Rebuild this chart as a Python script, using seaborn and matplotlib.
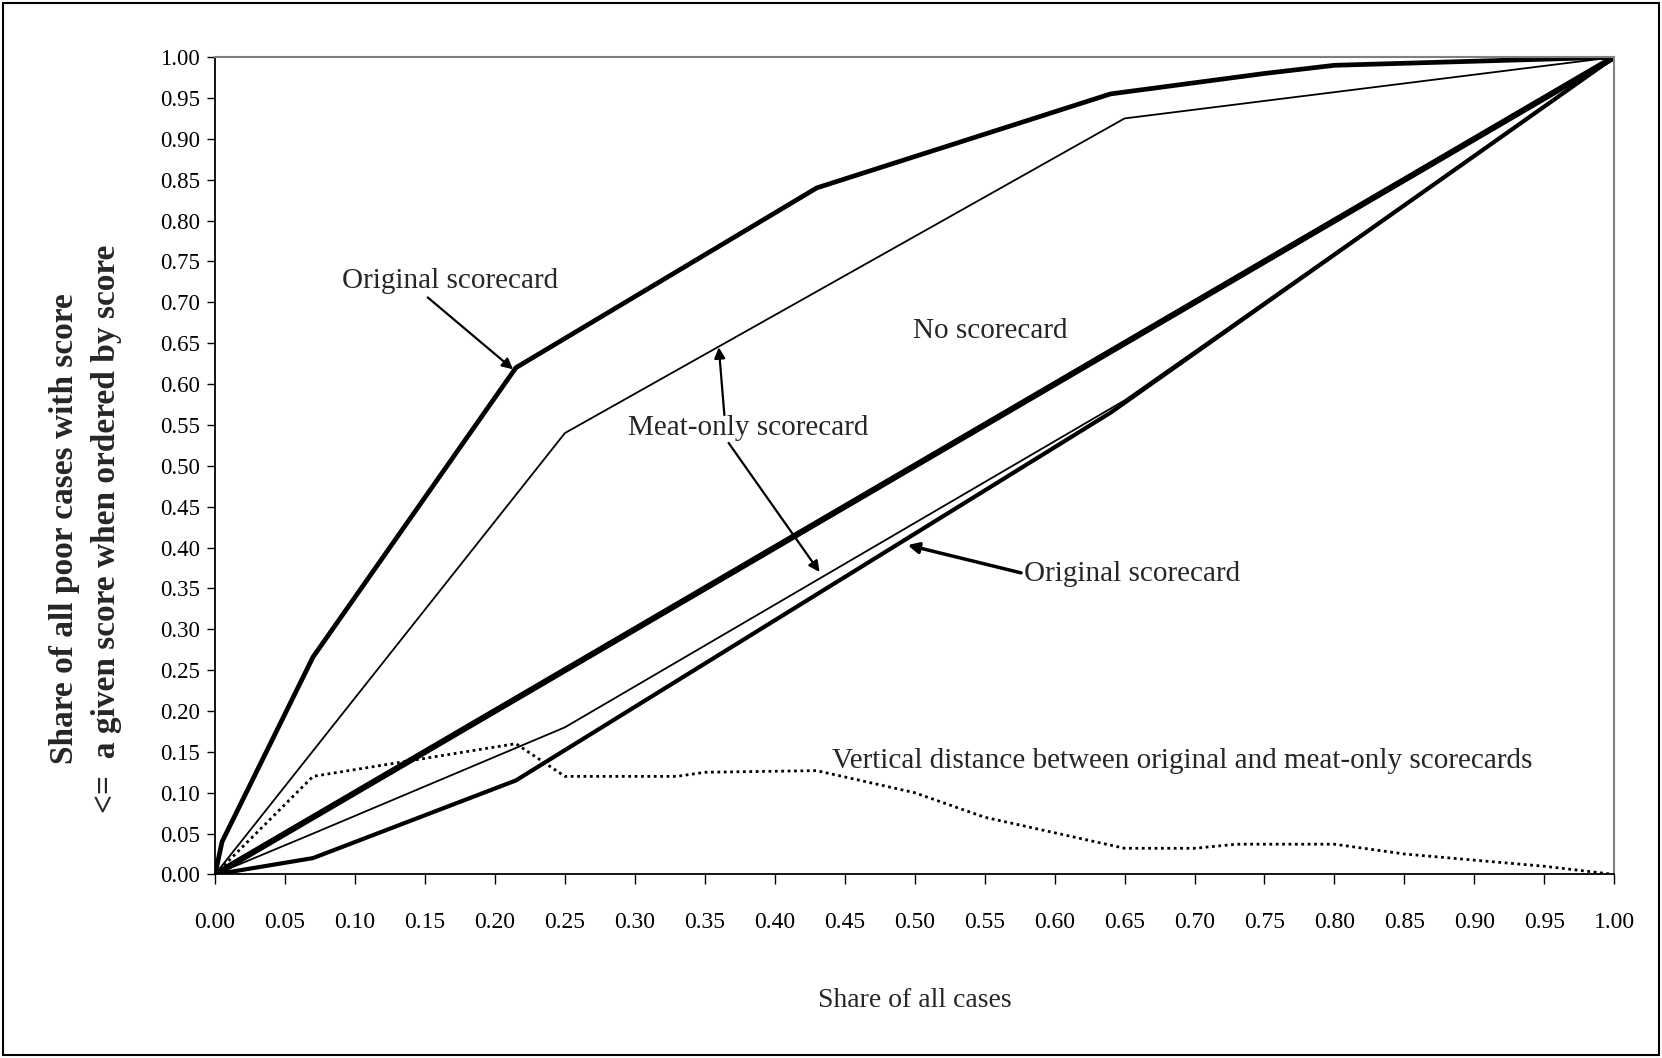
import numpy as np
import pandas as pd
import seaborn as sns
import matplotlib.pyplot as plt
from matplotlib.patches import Rectangle

# curve values (x = share of all cases, y = share of poor cases)
orig_upper_x = [0, 0.005, 0.07, 0.215, 0.43, 0.64, 0.75, 0.80, 0.90, 1.0]
orig_upper_y = [0, 0.04, 0.266, 0.62, 0.84, 0.955, 0.98, 0.99, 0.995, 1.0]

meat_upper_x = [0, 0.25, 0.65, 1.0]
meat_upper_y = [0, 0.54, 0.925, 1.0]

no_card_x = [0, 1.0]
no_card_y = [0, 1.0]

meat_lower_x = [0, 0.07, 0.25, 0.65, 1.0]
meat_lower_y = [0, 0.05, 0.18, 0.58, 1.0]

orig_lower_x = [0, 0.07, 0.215, 0.64, 1.0]
orig_lower_y = [0, 0.02, 0.115, 0.565, 1.0]

dist_x = [0, 0.07, 0.215, 0.25, 0.33, 0.35, 0.43, 0.50, 0.55, 0.65, 0.70, 0.73, 0.80, 0.85, 0.95, 1.0]
dist_y = [0, 0.12, 0.16, 0.12, 0.12, 0.125, 0.127, 0.10, 0.07, 0.032, 0.032, 0.037, 0.037, 0.025, 0.01, 0.0]

tick_vals = [round(0.05 * i, 2) for i in range(21)]
tick_labels = [f"{v:.2f}" for v in tick_vals]

sns.set_style("white")
plt.rcParams['font.family'] = ['Liberation Serif', 'DejaVu Serif']

fig = plt.figure(figsize=(16.62, 10.58), dpi=100)
ax = fig.add_axes([0.1294, 0.1735, 0.8419, 0.7725])

# draw the curves
sns.lineplot(x=orig_upper_x, y=orig_upper_y, ax=ax, color="black", linewidth=3.4, sort=False, estimator=None)
sns.lineplot(x=meat_upper_x, y=meat_upper_y, ax=ax, color="black", linewidth=1.3, sort=False, estimator=None)
sns.lineplot(x=no_card_x, y=no_card_y, ax=ax, color="black", linewidth=4.4, sort=False, estimator=None)
sns.lineplot(x=meat_lower_x, y=meat_lower_y, ax=ax, color="black", linewidth=1.3, sort=False, estimator=None)
sns.lineplot(x=orig_lower_x, y=orig_lower_y, ax=ax, color="black", linewidth=3.0, sort=False, estimator=None)
sns.lineplot(x=dist_x, y=dist_y, ax=ax, color="black", linewidth=2.0, linestyle=(0, (1, 1.3)),
             sort=False, estimator=None)

ax.set_xlim(0, 1.0)
ax.set_ylim(0, 1.0)
ax.set_xticks(tick_vals)
ax.set_xticklabels(tick_labels)
ax.set_yticks(tick_vals)
ax.set_yticklabels(tick_labels)
ax.tick_params(axis="x", direction="out", length=7, width=1, pad=20, labelsize=17, colors="black")
ax.tick_params(axis="y", direction="out", length=6, width=1, pad=5, labelsize=16.5, colors="black")
ax.tick_params(bottom=True, left=True)

for side in ["left", "bottom"]:
    ax.spines[side].set_color("black")
    ax.spines[side].set_linewidth(1.3)
for side in ["top", "right"]:
    ax.spines[side].set_color("#808080")
    ax.spines[side].set_linewidth(1.5)

ax.set_xlabel("Share of all cases", fontsize=20, labelpad=40)
fig.text(0.039, 0.5, "Share of all poor cases with score", rotation=90, ha="center", va="center",
         fontsize=24, fontweight="bold")
fig.text(0.064, 0.5, "<=  a given score when ordered by score", rotation=90, ha="center", va="center",
         fontsize=24, fontweight="bold")

# annotations
arrow = dict(arrowstyle="-|>", color="black", lw=1.6, mutation_scale=16, shrinkA=0, shrinkB=0)
ax.text(0.091, 0.726, "Original scorecard", fontsize=21, ha="left", va="center")
ax.annotate("", xy=(0.213, 0.618), xytext=(0.152, 0.706), arrowprops=arrow)

ax.text(0.499, 0.665, "No scorecard", fontsize=21, ha="left", va="center")

ax.text(0.295, 0.546, "Meat-only scorecard", fontsize=21, ha="left", va="center")
ax.annotate("", xy=(0.360, 0.645), xytext=(0.364, 0.562), arrowprops=arrow)
ax.annotate("", xy=(0.432, 0.370), xytext=(0.367, 0.528), arrowprops=arrow)

ax.text(0.578, 0.368, "Original scorecard", fontsize=21, ha="left", va="center")
ax.annotate("", xy=(0.495, 0.403), xytext=(0.576, 0.369),
            arrowprops=dict(arrowstyle="-|>", color="black", lw=2.5, mutation_scale=16, shrinkA=0, shrinkB=0))

ax.text(0.441, 0.139, "Vertical distance between original and meat-only scorecards", fontsize=21,
        ha="left", va="center")

# outer frame of the figure
fig.patches.append(Rectangle((0.002, 0.003), 0.996, 0.994, transform=fig.transFigure,
                             fill=False, lw=1.5, ec="black"))

plt.savefig("out.png", dpi=100)
